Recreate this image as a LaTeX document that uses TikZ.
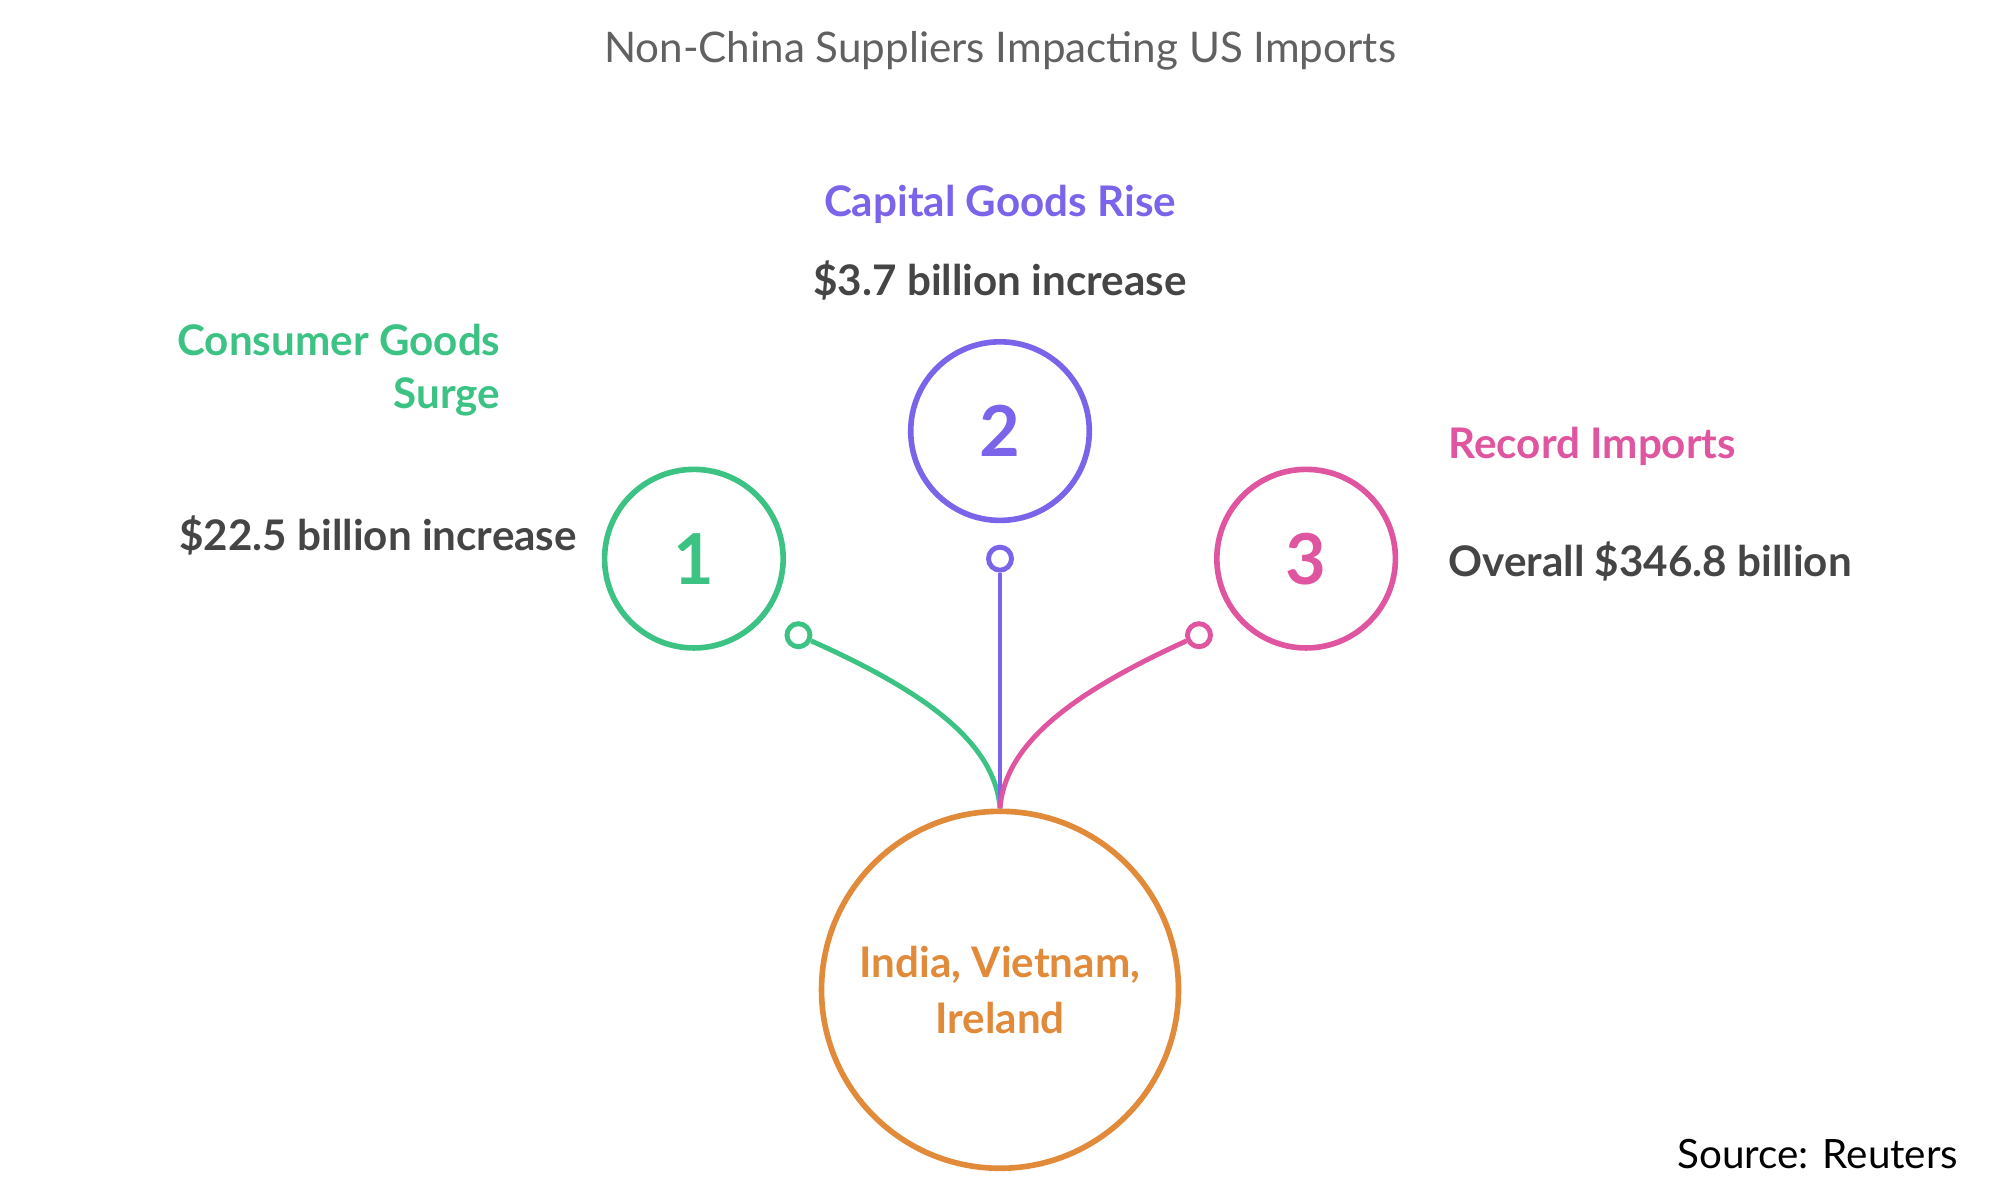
\documentclass[tikz,border=0pt]{standalone}
\usepackage{fontspec}
\setmainfont{Lato}
\definecolor{cgreen}{HTML}{3CC283}
\definecolor{cpurple}{HTML}{7B63EA}
\definecolor{cpink}{HTML}{E0559F}
\definecolor{corange}{HTML}{E08A3A}
\definecolor{ctext}{HTML}{454545}
\begin{document}
\begin{tikzpicture}[x=0.012755cm,y=-0.012755cm,
    ring/.style={circle,draw,line width=1.6pt,minimum size=1.786cm,inner sep=0pt,font=\bfseries\fontsize{20}{22}\selectfont},
    dot/.style={circle,draw,line width=1.4pt,fill=white,minimum size=0.23cm,inner sep=0pt},
    head/.style={font=\bfseries\fontsize{12}{15}\selectfont},
    note/.style={font=\bfseries\fontsize{12}{15}\selectfont,text=ctext}]
    \useasboundingbox (0,0) rectangle (1568,940);

    \node[font=\fontsize{12}{14}\selectfont,text=ctext!85] (title) at (784,40) {Non-China Suppliers Impacting US Imports};

    \node[ring,minimum size=3.57cm,draw=corange,text=corange,align=center,font=\bfseries\fontsize{12}{16}\selectfont] (hub) at (784,776) {India, Vietnam,\\Ireland};
    \coordinate (root) at (hub.north);

    \node[ring,draw=cgreen,text=cgreen] (one) at (544,438) {1};
    \node[ring,draw=cpurple,text=cpurple] (two) at (784,338) {2};
    \node[ring,draw=cpink,text=cpink] (three) at (1024,438) {3};

    \node[dot,draw=cgreen] (d1) at (626,498) {};
    \node[dot,draw=cpurple] (d2) at (784,438) {};
    \node[dot,draw=cpink] (d3) at (940,498) {};

    % stems
    \draw[cgreen,line width=1.4pt] (d1) .. controls (720,540) and (780,580) .. (root);
    \draw[cpurple,line width=1.4pt] (d2) -- (root);
    \draw[cpink,line width=1.4pt] (d3) .. controls (848,540) and (788,580) .. (root);

    \node[head,text=cgreen,align=right,anchor=east] (t1) at (402,290) {Consumer Goods\\Surge};
    \node[note,anchor=east] (n1) at (462,420) {\$22.5 billion increase};
    \node[head,text=cpurple] (t2) at (784,160) {Capital Goods Rise};
    \node[note] (n2) at (784,220) {\$3.7 billion increase};
    \node[head,text=cpink,anchor=west] (t3) at (1126,350) {Record Imports};
    \node[note,anchor=west] (n3) at (1126,440) {Overall \$346.8 billion};

    \node[anchor=east,font=\fontsize{11.5}{14}\selectfont] (src) at (1545,905) {Source: Reuters};
\end{tikzpicture}
\end{document}
